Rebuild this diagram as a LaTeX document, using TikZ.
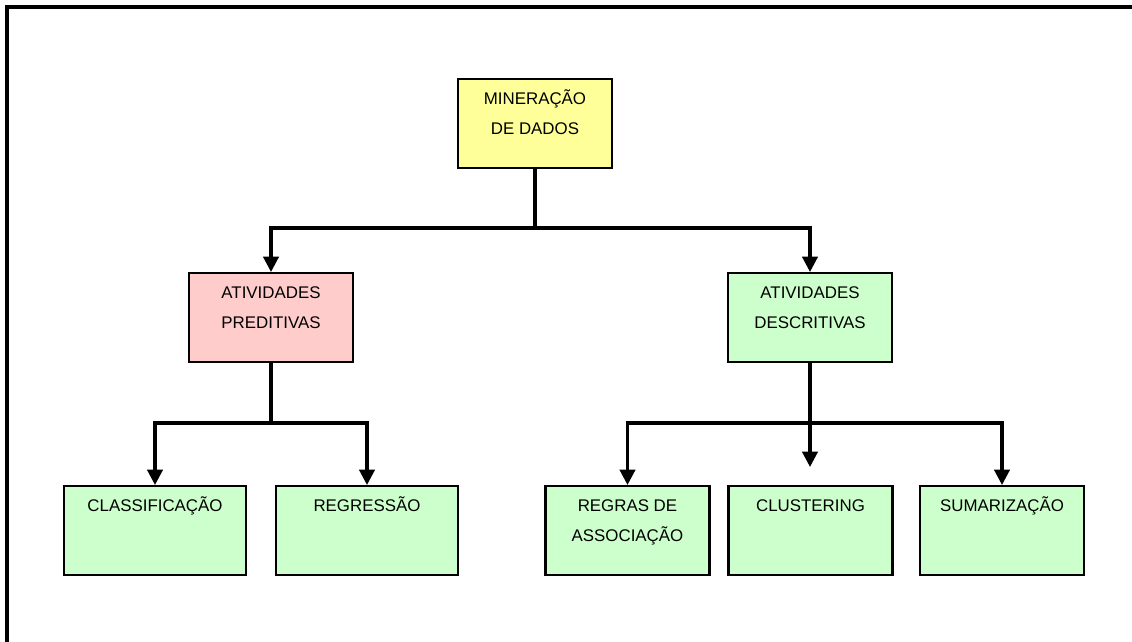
\documentclass[tikz,border=0pt]{standalone}
\usepackage{fontspec}
\setmainfont{Liberation Sans}
\usepackage{tikz}
\usetikzlibrary{arrows.meta,positioning}

\definecolor{caixaamarela}{HTML}{FFFF99}
\definecolor{caixarosa}{HTML}{FFCCCC}
\definecolor{caixaverde}{HTML}{CCFFCC}

\newcommand{\txtcaixa}[1]{\begin{tabular}[t]{@{}c@{}}#1\end{tabular}}

\begin{document}
\begin{tikzpicture}[
			x=0.025cm, y=-0.025cm,
			caixa/.style={draw, line width=1.5pt, anchor=north,
				inner sep=0pt, text height=0.64cm, text depth=1.58cm,
				font=\fontsize{12}{21.3}\selectfont},
			seta/.style={line width=2.2pt, -{Triangle[width=11pt,length=11pt]}},
			linha/.style={line width=2.2pt}
			]

			\useasboundingbox (0,0) rectangle (1132,642);
			\draw[line width=2.2pt] (7,660) -- (7,7) -- (1150,7);

			% nivel 1
			\node[caixa,fill=caixaamarela,minimum width=3.85cm] (min) at (535,78) {\txtcaixa{MINERAÇÃO\\DE DADOS}};

			% nivel 2
			\node[caixa,fill=caixarosa,minimum width=4.1cm] (pred) at (271,272) {\txtcaixa{ATIVIDADES\\PREDITIVAS}};
			\node[caixa,fill=caixaverde,minimum width=4.1cm] (desc) at (810,272) {\txtcaixa{ATIVIDADES\\DESCRITIVAS}};

			% nivel 3
			\node[caixa,fill=caixaverde,minimum width=4.55cm] (class) at (155,485) {\txtcaixa{CLASSIFICAÇÃO}};
			\node[caixa,fill=caixaverde,minimum width=4.55cm] (reg) at (367,485) {\txtcaixa{REGRESSÃO}};
			\node[caixa,fill=caixaverde,minimum width=4.1cm] (regras) at (627.5,485) {\txtcaixa{REGRAS DE\\ASSOCIAÇÃO}};
			\node[caixa,fill=caixaverde,minimum width=4.1cm] (clust) at (810.5,485) {\txtcaixa{CLUSTERING}};
			\node[caixa,fill=caixaverde,minimum width=4.1cm] (sum) at (1002,485) {\txtcaixa{SUMARIZAÇÃO}};

			% ligacoes
			\coordinate (j1) at (535,228);
			\coordinate (j2) at (271,423);
			\coordinate (j3) at (810,423);

			\draw[linha] (min.south) -- (j1);
			\draw[seta] (j1) -| (pred.north);
			\draw[seta] (j1) -| (desc.north);

			\draw[linha] (pred.south) -- (j2);
			\draw[seta] (j2) -| (class.north);
			\draw[seta] (j2) -| (reg.north);

			\draw[linha] (desc.south) -- (j3);
			\draw[seta] (j3) -| (regras.north);
			\draw[seta] (j3) -| (sum.north);
			\draw[seta,shorten >=0.45cm] (j3) -- (j3 |- clust.north);

			\end{tikzpicture}
\end{document}
